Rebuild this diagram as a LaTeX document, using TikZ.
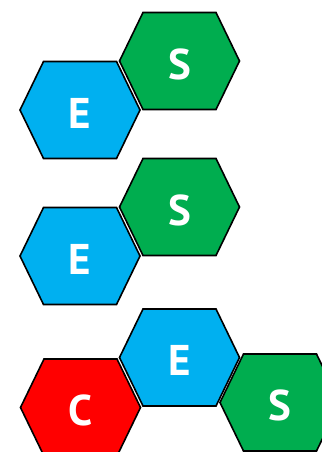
\documentclass[tikz,border=0pt]{standalone}
\usepackage{fontspec}
\setsansfont{PT Sans}
\definecolor{hexblue}{HTML}{00B0F0}
\definecolor{hexgreen}{HTML}{00AD4F}
\definecolor{hexred}{HTML}{FF0000}

\begin{document}
\begin{tikzpicture}[
    x=1pt, y=-1pt,
    hexline/.style={draw=black, line width=1.6pt, line join=miter},
    lbl/.style={text=white, inner sep=0pt, text depth=0pt, font=\sffamily\bfseries\fontsize{43}{43}\selectfont},
    pics/hexa/.style args={#1/#2}{code={
        \draw[hexline, fill=#1] (-60,0) -- (-36.5,-48.5) -- (36.5,-48.5) -- (60,0) -- (36.5,48.5) -- (-36.5,48.5) -- cycle;
        \node[lbl] (-lbl) at (0,3) {#2};
    }}
]
    \useasboundingbox (0,0) rectangle (321,452);

    % first pair
    \pic (eA) at (80,110) {hexa=hexblue/E};
    \pic (sA) at (179.5,61) {hexa=hexgreen/S};

    % second pair
    \pic (eB) at (80,256) {hexa=hexblue/E};
    \pic (sB) at (179.5,207) {hexa=hexgreen/S};

    % row of three
    \pic (cC) at (80.5,407.5) {hexa=hexred/C};
    \pic (eC) at (179.5,357.5) {hexa=hexblue/E};
    \pic (sC) at (280,402.5) {hexa=hexgreen/S};
\end{tikzpicture}
\end{document}
